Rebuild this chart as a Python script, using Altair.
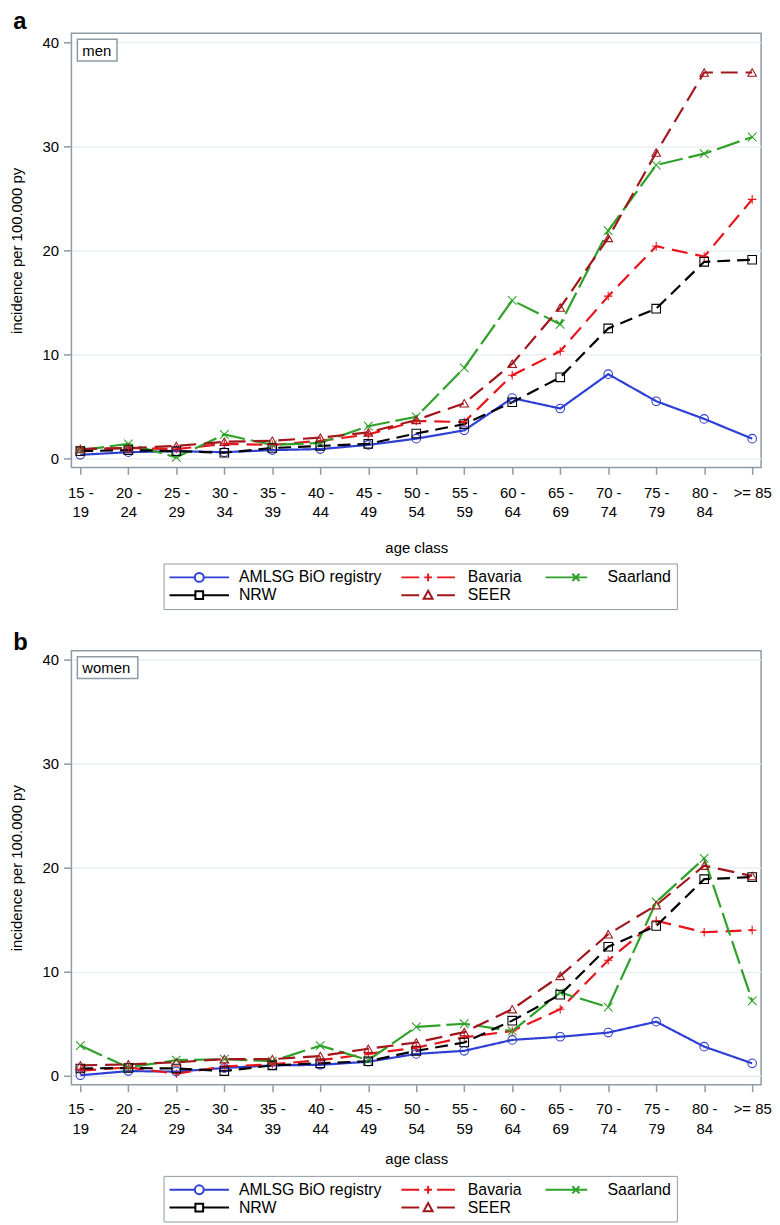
import altair as alt
import pandas as pd

AGE_CLASSES = ["15 - 19", "20 - 24", "25 - 29", "30 - 34", "35 - 39", "40 - 44", "45 - 49",
               "50 - 54", "55 - 59", "60 - 64", "65 - 69", "70 - 74", "75 - 79", "80 - 84", ">= 85"]
SERIES = ["AMLSG BiO registry", "Bavaria", "Saarland", "NRW", "SEER"]
COLORS = ["#2E3FD3", "#E8141B", "#2FA12A", "#000000", "#A0161C"]
DASHES = [[1, 0], [16, 8], [24, 6], [13, 7], [17, 8]]

# men
MEN_AMLSG = [0.35, 0.6, 0.7, 0.6, 0.8, 0.9, 1.3, 1.9, 2.7, 5.8, 4.8, 8.1, 5.5, 3.8, 1.9]
MEN_NRW = [0.7, 0.8, 0.7, 0.55, 1.0, 1.2, 1.4, 2.4, 3.3, 5.4, 7.8, 12.5, 14.4, 18.9, 19.1]
MEN_BAVARIA = [0.9, 1.0, 0.9, 1.4, 1.3, 1.7, 2.3, 3.6, 3.5, 8.0, 10.3, 15.6, 20.4, 19.4, 24.9]
MEN_SEER = [0.9, 1.0, 1.2, 1.6, 1.7, 2.0, 2.5, 3.7, 5.3, 9.1, 14.5, 21.2, 29.4, 37.1, 37.1]
MEN_SAARLAND = [0.8, 1.4, 0.1, 2.3, 1.3, 1.5, 3.1, 4.0, 8.7, 15.2, 12.9, 21.9, 28.2, 29.3, 30.9]

# women
WOMEN_AMLSG = [0.05, 0.45, 0.4, 0.75, 1.0, 1.05, 1.35, 2.1, 2.4, 3.45, 3.75, 4.15, 5.2, 2.8, 1.2]
WOMEN_NRW = [0.7, 0.75, 0.7, 0.45, 1.0, 1.2, 1.4, 2.4, 3.2, 5.3, 7.8, 12.4, 14.4, 18.9, 19.1]
WOMEN_BAVARIA = [0.5, 0.8, 0.2, 0.9, 1.1, 1.5, 2.1, 2.7, 3.7, 4.3, 6.4, 11.1, 14.9, 13.8, 14.0]
WOMEN_SEER = [1.0, 1.1, 1.3, 1.6, 1.6, 1.9, 2.6, 3.2, 4.2, 6.4, 9.6, 13.6, 16.4, 20.2, 19.2]
WOMEN_SAARLAND = [2.9, 0.8, 1.5, 1.6, 1.4, 2.9, 1.5, 4.7, 5.0, 4.3, 8.0, 6.6, 16.7, 20.9, 7.2]

FONT = "Liberation Sans"
GRAY = "#8C9BA5"
W, H = 696, 438

# marker shapes for plot points (custom paths are plus and x)
SHAPES = ["circle", "M-1,0H1M0,-1V1", "M-1,-1L1,1M-1,1L1,-1", "square", "triangle-up"]
# legend symbols: line + marker, in units of half the symbol width
LEG_SHAPES = [
    "M-1,0H-0.15M0.15,0H1M-0.15,0A0.15,0.15,0,1,0,0.15,0A0.15,0.15,0,1,0,-0.15,0",
    "M-0.9,0H-0.3M0.3,0H0.9M-0.13,0H0.13M0,-0.13V0.13",
    "M-0.75,0H0.65M0.15,-0.12L0.39,0.12M0.15,0.12L0.39,-0.12",
    "M-1,0H-0.13M0.13,0H1M-0.13,-0.13H0.13V0.13H-0.13Z",
    "M-0.9,0H-0.3M0.3,0H0.9M-0.15,0.12L0,-0.15L0.15,0.12Z",
]


def long_df(vals):
    rows = []
    for s, arr in zip(SERIES, vals):
        for a, v in zip(AGE_CLASSES, arr):
            rows.append({"age": a, "series": s, "value": v})
    return pd.DataFrame(rows)


LABEL_EXPR = ("indexof(datum.value, ' - ') > 0 ? "
              "[split(datum.value, ' - ')[0] + ' -', split(datum.value, ' - ')[1]] : datum.value")


def panel(vals, letter, boxlabel, boxw, title_offset, legend_y, label_pad, title_pad):
    df = long_df(vals)
    x = alt.X("age:O", scale=alt.Scale(type="point", domain=AGE_CLASSES, padding=0.186),
              axis=alt.Axis(title="age class", labelAngle=0, labelExpr=LABEL_EXPR, grid=False,
                            tickSize=7, labelPadding=label_pad, labelLineHeight=20,
                            titlePadding=title_pad))
    y = alt.Y("value:Q", scale=alt.Scale(domain=[-0.86, 40.86], nice=False, zero=False),
              axis=alt.Axis(title="incidence per 100.000 py", values=[0, 10, 20, 30, 40],
                            tickSize=8, labelPadding=5, titlePadding=18, grid=True))
    color_nl = alt.Color("series:N", scale=alt.Scale(domain=SERIES, range=COLORS), legend=None)

    lines = alt.Chart(df).mark_line(strokeWidth=2.2).encode(
        x=x, y=y, color=color_nl,
        strokeDash=alt.StrokeDash("series:N", scale=alt.Scale(domain=SERIES, range=DASHES), legend=None),
    )
    points = alt.Chart(df).mark_point(filled=False, size=75, strokeWidth=1.1, opacity=1).encode(
        x=x, y=y, color=color_nl,
        shape=alt.Shape("series:N", scale=alt.Scale(domain=SERIES, range=SHAPES), legend=None),
    )
    leg = alt.Legend(title=None, orient="none", legendX=93, legendY=legend_y, direction="horizontal",
                     columns=3, strokeColor=GRAY, fillColor="white", padding=5,
                     labelFont=FONT, labelFontSize=16, labelColor="black", symbolSize=3600,
                     symbolStrokeWidth=2, clipHeight=18, columnPadding=15, rowPadding=0,
                     labelOffset=9, symbolOffset=0)
    dummy = alt.Chart(df).transform_filter("false").mark_point(filled=False, opacity=1, strokeWidth=2).encode(
        x=x, y=y,
        color=alt.Color("series:N", scale=alt.Scale(domain=SERIES, range=COLORS), legend=leg),
        shape=alt.Shape("series:N", scale=alt.Scale(domain=SERIES, range=LEG_SHAPES), legend=leg),
    )
    box_df = pd.DataFrame({"label": [boxlabel]})
    box = alt.Chart(box_df).mark_rect(fill="white", stroke=GRAY, strokeWidth=1.5).encode(
        x=alt.value(6), x2=alt.value(6 + boxw), y=alt.value(6), y2=alt.value(28))
    boxtext = alt.Chart(box_df).mark_text(align="left", baseline="middle", font=FONT,
                                          fontSize=15, color="black").encode(
        x=alt.value(11), y=alt.value(17.5), text="label:N")

    return alt.layer(lines, points, dummy, box, boxtext).resolve_scale(
        color="independent", shape="independent", strokeDash="independent"
    ).properties(
        width=W, height=H,
        title=alt.TitleParams(letter, anchor="start", frame="bounds", fontSize=24, fontWeight="bold",
                              font=FONT, color="black", offset=title_offset, dx=4),
    )


men = [MEN_AMLSG, MEN_BAVARIA, MEN_SAARLAND, MEN_NRW, MEN_SEER]
women = [WOMEN_AMLSG, WOMEN_BAVARIA, WOMEN_SAARLAND, WOMEN_NRW, WOMEN_SEER]

chart = alt.vconcat(
    panel(men, "a", "men", 40, -1, 535, 11, 21),
    panel(women, "b", "women", 61, -4, 530, 10, 16),
    spacing=19,
).properties(
    padding={"left": 0, "top": -4, "right": 0, "bottom": 0},
    background="white",
).configure_view(
    stroke=GRAY, strokeWidth=1.5
).configure_axis(
    labelFont=FONT, titleFont=FONT, labelFontSize=15, titleFontSize=15, titleFontWeight="normal",
    labelColor="black", titleColor="black", tickColor=GRAY, tickWidth=1.5, domain=False,
    gridColor="#E6EAEE", gridWidth=1.2,
)

chart.save("out.html", embed_options={"renderer": "svg", "actions": False})
